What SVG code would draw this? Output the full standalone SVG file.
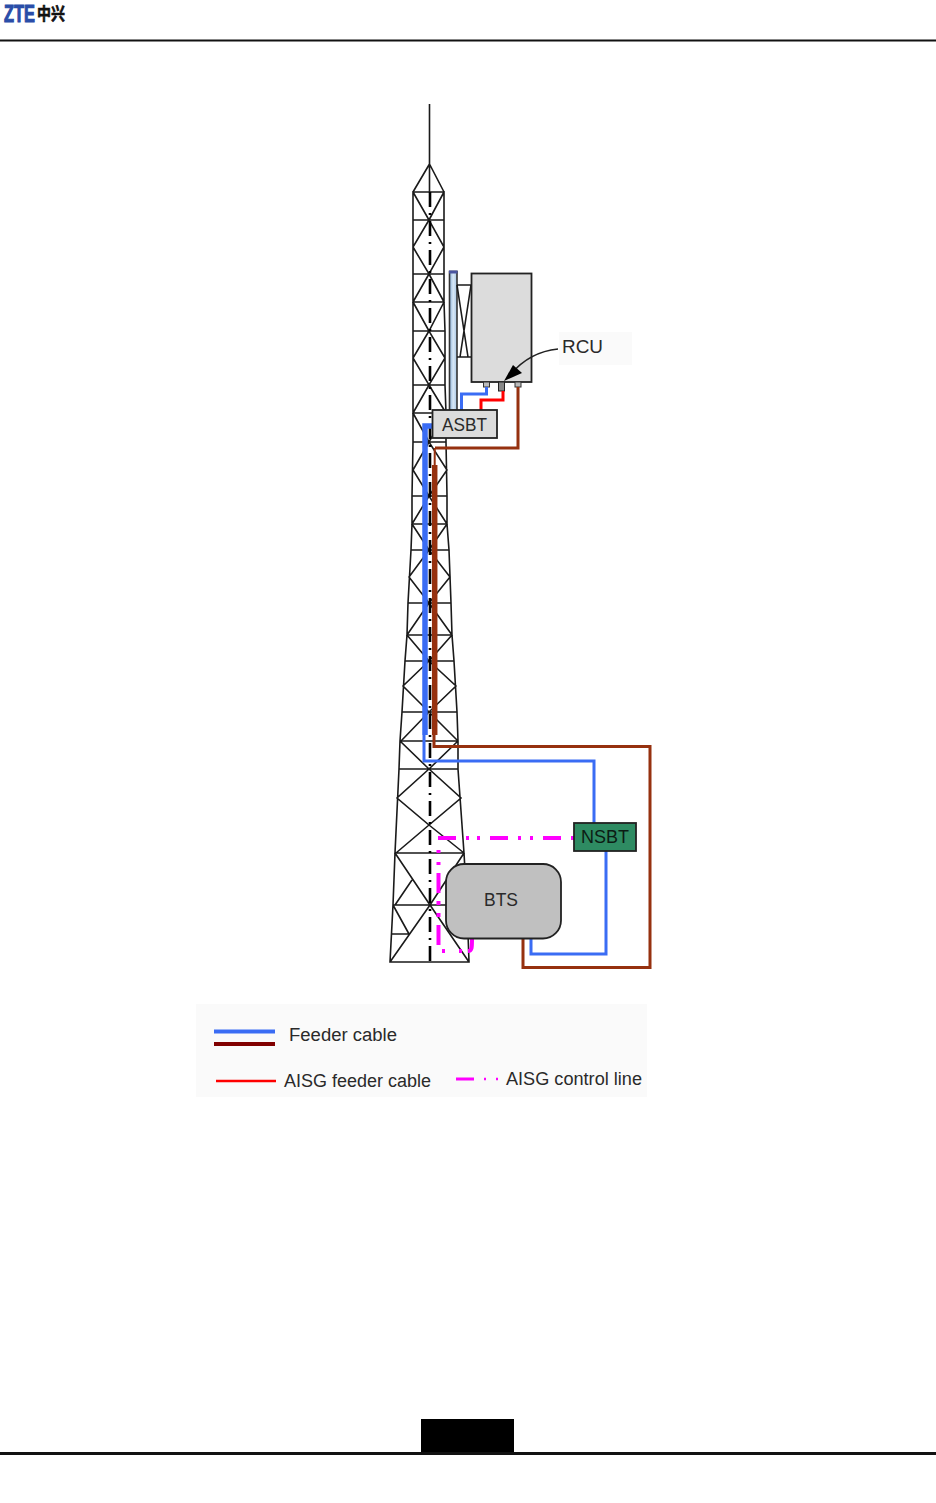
<svg xmlns="http://www.w3.org/2000/svg" width="936" height="1503" viewBox="0 0 936 1503">
<defs>
<linearGradient id="pole" x1="0" x2="1" y1="0" y2="0"><stop offset="0" stop-color="#8fb4dc"/><stop offset="0.5" stop-color="#d8e8f6"/><stop offset="1" stop-color="#a8c6e4"/></linearGradient>
</defs>
<style>
text{font-family:"Liberation Sans",Arial,sans-serif;fill:#2a2a2a}
.t{fill:none;stroke:#1a1a1a;stroke-width:1.6}
.b{fill:none;stroke:#3a6cf4;stroke-width:3}
.br{fill:none;stroke:#96310f;stroke-width:3}
.m{fill:none;stroke:#ff00ff;stroke-width:4}
.box{stroke:#222;stroke-width:1.800}
</style>
<rect width="936" height="1503" fill="#fff"/>
<g id="header">
<text transform="translate(4 22.300) scale(1.09 1.63)" font-size="15" font-weight="700" stroke="#2a4da8" stroke-width="0.700" style="fill:#2a4da8">ZTE</text>
<text transform="translate(37 19.500) scale(1 1.25)" font-size="14" font-weight="700" stroke="#111" stroke-width="0.500" style="font-family:'Noto Sans CJK SC',sans-serif;fill:#111">中兴</text>
<rect x="0" y="39.500" width="936" height="2" fill="#111"/>
</g>
<g id="footer">
<rect x="421" y="1419" width="93" height="34" fill="#000"/>
<rect x="0" y="1452" width="936" height="3" fill="#111"/>
</g>
<g id="tower">
<path class="t" d="M429.500 104V192M429.500 164L413 192M429.500 164L444 192"/>
<path class="t" d="M413 192V220H444V192ZM413 192L429 220L444 192M413 220V274H444V220M429 220L413 247L429 274L444 247ZM413 274H444M429 274L413 302M429 274L444 302M413 274V302H444V274"/>
<path class="t" d="M413 302V331H445L444 302M413 302L429 331L444 302M413 331V385H445V331M429 331L413 358L429 385L445 358ZM429 385L413 413M429 385L446 413M413 385V413H446L445 385"/>
<path class="t" d="M413 413V442H446V413M413 413L429 442L446 413M413 442L412 496H447L446 442M429 442L413 470L429 496L447 470ZM429 496L412 524M429 496L447 524M412 496V524H447V496"/>
<path class="t" d="M412 524L411 550H449L447 524M412 524L429 550L447 524M411 550L408 603H451L449 550M429 550L409 577L429 603L450 577ZM429 603L407 635M429 603L452 635M408 603L407 635H452L451 603"/>
<path class="t" d="M407 635L405 661H454L452 635M407 635L429 661L452 635M405 661L402 712H457L454 661M429 661L403 686L429 712L456 686ZM429 712L401 741M429 712L458 741M402 712L400 741M457 712L458 741"/>
<path class="t" d="M400 741L399 769H458L458 741M400 741H458M400 741L429 769L458 741M399 769L395 853H464L458 769M429 769L397 798L429 825L461 798ZM429 825L396 853M429 825L464 853"/>
<path class="t" d="M395 853L393 905H467L464 853M395 853L430 905L464 853M393 905L390 962H469L467 905M430 905L390 962M430 905L469 962M412 880L395 905M393 905L409 934M392 934H409"/>
<path d="M430 192V962" fill="none" stroke="#000" stroke-width="2.600" stroke-dasharray="15 6 2 6"/>
</g>
<g id="antenna">
<rect x="449.500" y="271.500" width="7.500" height="139" fill="url(#pole)" stroke="#333" stroke-width="1.600"/>
<rect x="449" y="270.500" width="8.500" height="3" fill="#4a55a0"/>
<path class="t" d="M457 285H471M457 357H471M457 285L468 357M471 285L460 357"/>
<rect x="471.500" y="273.500" width="60" height="108.500" fill="#dcdcdc" class="box"/>
<rect x="483.500" y="382" width="6" height="5" fill="#bbb" stroke="#333"/>
<rect x="498.500" y="382" width="6" height="9" fill="#888" stroke="#222"/>
<rect x="515" y="382" width="6" height="5" fill="#bbb" stroke="#333"/>
</g>
<g id="connectors">
<path class="b" d="M486.500 387V394H461.500V410"/>
<path d="M503 391V400H481V410" fill="none" stroke="#ff0000" stroke-width="3"/>
<path class="br" d="M518 387V448H435"/>
<path d="M432 426H425V735" fill="none" stroke="#3a6cf4" stroke-width="5.500"/>
<path d="M434.700 465V735" fill="none" stroke="#96310f" stroke-width="5.500"/>
<path d="M434.700 448V470" fill="none" stroke="#96310f" stroke-width="2"/>
<path class="b" d="M424 735V761H594V823"/>
<path class="br" d="M434 735V746.500H650V967.500H523V938"/>
<path class="b" d="M606 851V954H531V938"/>
<path class="m" d="M438 838H456M466 838H469M477 838H480M490 838H508M518 838H521M530 838H533M543 838H561M571 838H574"/>
<path class="m" d="M438.500 850V853M438.500 862V865M438.500 873V893M438.500 901V905M438.500 913V917M438.500 925V945M442 951H445M459 951H462M468 951C472 951 472 948 472 938"/>
<path d="M558 349C538 351 522 361 511 374" fill="none" stroke="#222" stroke-width="1.600"/>
<path d="M504 381L513 365L522 373Z" fill="#000"/>
</g>
<g id="asbt">
<rect x="432.500" y="410" width="64.500" height="28" fill="#dcdcdc" class="box"/>
<text x="442" y="431" font-size="18" textLength="45" lengthAdjust="spacingAndGlyphs">ASBT</text>
</g>
<g id="rcu">
<rect x="559" y="332" width="73" height="33" fill="#fafafa"/>
<text x="562" y="353" font-size="18.500" textLength="41" lengthAdjust="spacingAndGlyphs">RCU</text>
</g>
<g id="nsbt">
<rect x="574" y="823" width="62" height="28" fill="#2e8b62" class="box"/>
<text x="581" y="843" font-size="18.500" textLength="48" lengthAdjust="spacingAndGlyphs" style="fill:#0c1c14">NSBT</text>
</g>
<g id="bts">
<rect x="446" y="864" width="115" height="74.500" rx="18" fill="#c0c0c0" class="box"/>
<text x="484" y="906" font-size="18" textLength="34" lengthAdjust="spacingAndGlyphs">BTS</text>
</g>
<g id="legend">
<rect x="196" y="1004" width="451" height="93" fill="#fafafa"/>
<path d="M214 1031.500H275" stroke="#3a6cf4" stroke-width="4"/>
<path d="M214 1044H275" stroke="#800000" stroke-width="4"/>
<text x="289" y="1041" font-size="18" textLength="108" lengthAdjust="spacingAndGlyphs">Feeder cable</text>
<path d="M216 1081H276" stroke="#ff0000" stroke-width="2.500"/>
<text x="284" y="1086.500" font-size="18" textLength="147" lengthAdjust="spacingAndGlyphs">AISG feeder cable</text>
<path d="M456 1079H474" stroke="#ff00ff" stroke-width="3"/>
<path d="M484 1079H486M496 1079H498" stroke="#ff00ff" stroke-width="2.500"/>
<text x="506" y="1085" font-size="18" textLength="136" lengthAdjust="spacingAndGlyphs">AISG control line</text>
</g>
</svg>
